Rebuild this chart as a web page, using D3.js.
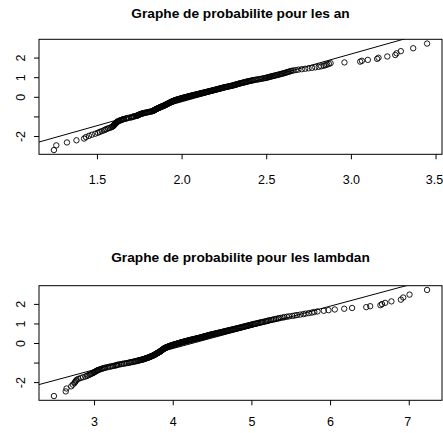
<!DOCTYPE html>
<html>
<head>
<meta charset="utf-8">
<script src="https://cdn.jsdelivr.net/npm/d3@7"></script>
<style>
html,body{margin:0;padding:0;background:#fff;}
svg{display:block;font-family:"Liberation Sans",Arial,Helvetica,sans-serif;}
</style>
</head>
<body>
<svg id="chart" width="443" height="433"></svg>
<script>
// ---- data (sorted sample values) ----
const anValues = [
1.246,1.26,1.323,1.379,1.424,1.435,1.453,1.47,1.49,1.505,
1.516,1.528,1.54,1.548,1.556,1.565,1.575,1.585,1.59,1.595,
1.598,1.60,1.602,1.605,1.607,1.61,1.612,1.615,1.617,1.62,
1.622,1.625,1.63,1.635,1.64,1.645,1.65,1.655,1.66,1.67,
1.675,1.68,1.69,1.70,1.705,1.71,1.715,1.72,1.728,1.735,
1.738,1.741,1.744,1.747,1.75,1.754,1.758,1.762,1.766,1.77,
1.776,1.782,1.788,1.794,1.80,1.806,1.812,1.818,1.824,1.83,
1.832,1.834,1.836,1.838,1.84,1.842,1.844,1.846,1.848,1.85,
1.853,1.855,1.858,1.86,1.863,1.865,1.868,1.87,1.873,1.875,
1.878,1.88,1.883,1.885,1.888,1.89,1.893,1.895,1.898,1.90,
1.902,1.904,1.906,1.908,1.91,1.912,1.914,1.916,1.918,1.92,
1.922,1.924,1.926,1.928,1.93,1.932,1.934,1.936,1.938,1.94,
1.942,1.944,1.947,1.949,1.951,1.954,1.956,1.958,1.961,1.963,
1.966,1.969,1.972,1.976,1.979,1.982,1.985,1.988,1.992,1.995,
1.999,2.002,2.006,2.009,2.013,2.016,2.02,2.023,2.027,2.03,
2.034,2.038,2.041,2.045,2.049,2.052,2.056,2.06,2.064,2.068,
2.072,2.076,2.08,2.084,2.088,2.092,2.096,2.1,2.104,2.108,
2.112,2.116,2.12,2.124,2.128,2.132,2.136,2.14,2.144,2.148,
2.152,2.156,2.16,2.164,2.168,2.172,2.176,2.18,2.184,2.188,
2.192,2.196,2.2,2.204,2.208,2.212,2.216,2.22,2.224,2.228,
2.232,2.236,2.24,2.244,2.248,2.252,2.257,2.262,2.267,2.272,
2.277,2.282,2.287,2.292,2.297,2.302,2.306,2.31,2.314,2.318,
2.322,2.326,2.33,2.334,2.338,2.342,2.347,2.352,2.357,2.362,
2.367,2.372,2.377,2.382,2.387,2.392,2.398,2.404,2.41,2.416,
2.422,2.43,2.438,2.446,2.454,2.462,2.47,2.478,2.486,2.494,
2.50,2.506,2.512,2.518,2.524,2.53,2.537,2.544,2.551,2.558,
2.565,2.572,2.579,2.586,2.593,2.60,2.607,2.614,2.621,2.628,
2.635,2.642,2.65,2.66,2.675,2.69,2.71,2.73,2.75,2.77,
2.79,2.81,2.825,2.84,2.85,2.86,2.87,2.88,2.962,3.055,
3.065,3.10,3.155,3.163,3.215,3.262,3.27,3.295,3.368,3.45
];
const lambdaValues = [
2.49,2.64,2.65,2.71,2.73,2.75,2.76,2.77,2.78,2.80,
2.83,2.86,2.89,2.91,2.93,2.945,2.96,2.975,2.99,3.0,
3.01,3.02,3.03,3.04,3.05,3.065,3.08,3.095,3.11,3.125,
3.14,3.16,3.18,3.20,3.22,3.24,3.26,3.28,3.29,3.30,
3.32,3.34,3.36,3.38,3.40,3.42,3.44,3.455,3.47,3.49,
3.505,3.52,3.535,3.55,3.56,3.572,3.584,3.596,3.608,3.62,
3.628,3.636,3.644,3.652,3.66,3.668,3.676,3.684,3.692,3.70,
3.706,3.712,3.718,3.724,3.73,3.736,3.742,3.748,3.754,3.76,
3.764,3.768,3.772,3.776,3.78,3.784,3.788,3.792,3.796,3.80,
3.804,3.808,3.812,3.816,3.82,3.824,3.828,3.832,3.836,3.84,
3.843,3.846,3.849,3.852,3.855,3.858,3.861,3.864,3.867,3.87,
3.873,3.876,3.879,3.882,3.885,3.888,3.891,3.894,3.897,3.90,
3.905,3.91,3.915,3.92,3.925,3.93,3.935,3.94,3.945,3.95,
3.956,3.962,3.968,3.974,3.98,3.986,3.992,3.998,4.004,4.01,
4.017,4.024,4.031,4.038,4.045,4.052,4.059,4.066,4.073,4.08,
4.087,4.094,4.101,4.108,4.115,4.122,4.13,4.138,4.146,4.153,
4.16,4.168,4.176,4.184,4.192,4.20,4.208,4.216,4.224,4.232,
4.24,4.249,4.258,4.267,4.276,4.285,4.294,4.303,4.312,4.321,
4.33,4.338,4.346,4.354,4.362,4.37,4.378,4.386,4.394,4.402,
4.41,4.418,4.426,4.434,4.442,4.45,4.458,4.466,4.474,4.482,
4.49,4.50,4.51,4.52,4.53,4.54,4.55,4.56,4.57,4.58,
4.59,4.60,4.61,4.62,4.63,4.64,4.65,4.66,4.67,4.68,
4.69,4.70,4.711,4.722,4.733,4.744,4.755,4.766,4.777,4.788,
4.80,4.811,4.822,4.833,4.844,4.855,4.866,4.877,4.888,4.899,
4.91,4.922,4.934,4.946,4.958,4.97,4.982,4.994,5.006,5.018,
5.03,5.045,5.06,5.075,5.09,5.105,5.12,5.135,5.15,5.17,
5.185,5.20,5.215,5.23,5.25,5.27,5.29,5.31,5.33,5.35,
5.37,5.40,5.42,5.45,5.48,5.52,5.55,5.58,5.62,5.66,
5.69,5.73,5.77,5.80,5.84,5.92,5.98,6.06,6.18,6.28,
6.46,6.51,6.64,6.66,6.70,6.78,6.90,6.93,7.01,7.233
];
// reference lines: [value where quantile = 0, slope]
const anLine = [2.105, 2.435];
const lambdaLine = [4.263, 1.084];
const titles = ["Graphe de probabilite pour les an", "Graphe de probabilite pour les lambdan"];
const anXTicks = [1.5, 2.0, 2.5, 3.0, 3.5];
const anXTickLabels = ["1.5", "2.0", "2.5", "3.0", "3.5"];
const lambdaXTicks = [3, 4, 5, 6, 7];
const lambdaXTickLabels = ["3", "4", "5", "6", "7"];
const yTicks = [-2, -1, 0, 1, 2];
const yTickLabels = ["-2", "", "0", "1", "2"];

// inverse standard normal CDF (Acklam) for theoretical quantiles
function qnorm(p) {
  const a = [-3.969683028665376e+01, 2.209460984245205e+02, -2.759285104469687e+02, 1.383577518672690e+02, -3.066479806614716e+01, 2.506628277459239e+00];
  const b = [-5.447609879822406e+01, 1.615858368580409e+02, -1.556989798598866e+02, 6.680131188771972e+01, -1.328068155288572e+01];
  const c = [-7.784894002430293e-03, -3.223964580411365e-01, -2.400758277161838e+00, -2.549732539343734e+00, 4.374664141464968e+00, 2.938163982698783e+00];
  const d = [7.784695709041462e-03, 3.224671290700398e-01, 2.445134137142996e+00, 3.754408661907416e+00];
  const pl = 0.02425, ph = 1 - pl;
  let q, r;
  if (p < pl) { q = Math.sqrt(-2 * Math.log(p)); return (((((c[0]*q+c[1])*q+c[2])*q+c[3])*q+c[4])*q+c[5]) / ((((d[0]*q+d[1])*q+d[2])*q+d[3])*q+1); }
  if (p > ph) { q = Math.sqrt(-2 * Math.log(1 - p)); return -(((((c[0]*q+c[1])*q+c[2])*q+c[3])*q+c[4])*q+c[5]) / ((((d[0]*q+d[1])*q+d[2])*q+d[3])*q+1); }
  q = p - 0.5; r = q * q;
  return (((((a[0]*r+a[1])*r+a[2])*r+a[3])*r+a[4])*r+a[5])*q / (((((b[0]*r+b[1])*r+b[2])*r+b[3])*r+b[4])*r+1);
}

const svg = d3.select("#chart");
const FONT = '"Liberation Sans", Arial, Helvetica, sans-serif';

function rpad(ext) { const r = ext[1] - ext[0]; return [ext[0] - 0.04 * r, ext[1] + 0.04 * r]; }

function panel(cfg) {
  const n = cfg.values.length;
  const pts = cfg.values.map((v, i) => ({ x: v, y: qnorm((i + 1) / (n + 1)) }));
  const x = d3.scaleLinear().domain(rpad(d3.extent(pts, d => d.x))).range([cfg.left, cfg.right]);
  const y = d3.scaleLinear().domain(rpad(d3.extent(pts, d => d.y))).range([cfg.bottom, cfg.top]);
  const g = svg.append("g");

  g.append("text").attr("x", (cfg.left + cfg.right) / 2).attr("y", cfg.titleY)
    .attr("text-anchor", "middle").attr("font-weight", "bold").attr("font-size", 13.7)
    .attr("font-family", FONT).attr("fill", "#000").text(cfg.title);

  const clipId = "clip" + cfg.id;
  g.append("clipPath").attr("id", clipId).append("rect")
    .attr("x", cfg.left).attr("y", cfg.top).attr("width", cfg.right - cfg.left).attr("height", cfg.bottom - cfg.top);

  // reference line
  const xd = x.domain();
  const lineFn = d3.line().x(d => x(d)).y(d => y(cfg.line[1] * (d - cfg.line[0])));
  g.append("path").attr("clip-path", `url(#${clipId})`).attr("d", lineFn(xd))
    .attr("fill", "none").attr("stroke", "#000").attr("stroke-width", 1);

  // points
  g.append("g").selectAll("circle").data(pts).join("circle")
    .attr("cx", d => x(d.x)).attr("cy", d => y(d.y)).attr("r", 2.7)
    .attr("fill", "none").attr("stroke", "#000").attr("stroke-width", 0.9);

  // box
  g.append("rect").attr("x", cfg.left).attr("y", cfg.top)
    .attr("width", cfg.right - cfg.left).attr("height", cfg.bottom - cfg.top)
    .attr("fill", "none").attr("stroke", "#000").attr("stroke-width", 1);

  // x axis
  const xAxis = d3.axisBottom(x).tickValues(cfg.xTicks).tickSize(5).tickPadding(cfg.xPad)
    .tickFormat((d, i) => cfg.xTickLabels[i]);
  const gx = g.append("g").attr("transform", `translate(0,${cfg.bottom})`).call(xAxis);
  gx.select(".domain").remove();
  gx.selectAll(".tick line").attr("stroke", "#000");
  gx.selectAll(".tick text").attr("font-size", 12.5).attr("font-family", FONT).attr("fill", "#000")
    .attr("dx", (d, i, nodes) => i === nodes.length - 1 ? -1.5 : 0);

  // y axis
  const yAxis = d3.axisLeft(y).tickValues(yTicks).tickSize(5).tickFormat((d, i) => yTickLabels[i]);
  const gy = g.append("g").attr("transform", `translate(${cfg.left},0)`).call(yAxis);
  gy.select(".domain").remove();
  gy.selectAll(".tick line").attr("stroke", "#000");
  gy.selectAll(".tick text")
    .attr("font-size", 12.5).attr("font-family", FONT).attr("fill", "#000")
    .attr("text-anchor", "middle").attr("dy", null).attr("x", null)
    .attr("transform", "translate(-14.5,0) rotate(-90)");
}

panel({ id: 1, values: anValues, line: anLine, title: titles[0], titleY: 18.2,
  left: 39, right: 442, top: 39.3, bottom: 154.3, xTicks: anXTicks, xTickLabels: anXTickLabels, xPad: 16 });
panel({ id: 2, values: lambdaValues, line: lambdaLine, title: titles[1], titleY: 261.5,
  left: 39, right: 442, top: 285.7, bottom: 400.3, xTicks: lambdaXTicks, xTickLabels: lambdaXTickLabels, xPad: 12 });
</script>
</body>
</html>
